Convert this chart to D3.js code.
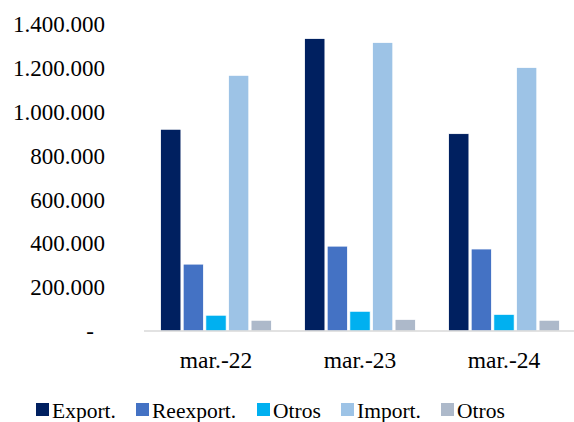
<!DOCTYPE html>
<html><head><meta charset="utf-8">
<script src="https://cdn.jsdelivr.net/npm/d3@7"></script>
<style>body{margin:0;background:#fff}svg{display:block}
svg text{font-family:"Liberation Serif","Times New Roman","DejaVu Serif",serif !important;}</style>
</head><body>
<svg id="c" width="574" height="422"></svg>
<script>
const categories = ["mar.-22", "mar.-23", "mar.-24"];
const seriesNames = ["Export.", "Reexport.", "Otros", "Import.", "Otros"];
const seriesColors = ["#002060", "#4472C4", "#00B0F0", "#9DC3E6", "#ADB9CA"];
const exportVals = [920000, 1334000, 900000];
const reexportVals = [305000, 387000, 374000];
const otrosExpVals = [72000, 90000, 76000];
const importVals = [1166000, 1316000, 1202000];
const otrosImpVals = [49000, 53000, 49000];
const tickValues = [0, 200000, 400000, 600000, 800000, 1000000, 1200000, 1400000];
const tickLabels = ["-", "200.000", "400.000", "600.000", "800.000", "1.000.000", "1.200.000", "1.400.000"];

(function () {
const series = [exportVals, reexportVals, otrosExpVals, importVals, otrosImpVals];
const svg = d3.select("#c");
const mLeft = 144, mRight = 576, mTop = 24, mBottom = 331;

const y = d3.scaleLinear().domain([0, 1400000]).range([mBottom, mTop]);
const x0 = d3.scaleBand().domain(categories).range([mLeft, mRight]).paddingInner(0.23).paddingOuter(0.115);
const x1 = d3.scaleBand().domain(d3.range(series.length)).range([0, x0.bandwidth()]).paddingInner(0.1);

// y tick labels
const yAxis = d3.axisLeft(y).tickValues(tickValues).tickSize(0).tickPadding(0)
  .tickFormat((d, i) => tickLabels[i]);
const gy = svg.append("g").attr("transform", "translate(105,0)").call(yAxis);
gy.select(".domain").remove();
gy.attr("font-family", null).attr("font-size", null);
gy.selectAll("text").style("font-size", "23px").attr("fill", "#000")
  .attr("dy", "0.33em")
  .attr("x", d => d === 0 ? -11 : 0);

// bars
const g = svg.append("g");
categories.forEach((c, ci) => {
  series.forEach((s, si) => {
    g.append("rect")
      .attr("x", x0(c) + x1(si))
      .attr("y", y(s[ci]))
      .attr("width", x1.bandwidth())
      .attr("height", y(0) - y(s[ci]))
      .attr("fill", seriesColors[si])
      .attr("stroke", "#ffffff").attr("stroke-width", 0.8);
  });
});

// x axis
const xAxis = d3.axisBottom(x0).tickSize(0).tickPadding(0);
const gx = svg.append("g").attr("transform", `translate(0,${mBottom})`).call(xAxis);
gx.attr("font-family", null).attr("font-size", null);
gx.select(".domain").attr("stroke", "#d9d9d9").attr("stroke-width", 1.5)
  .attr("d", `M${mLeft},0H574`);
gx.selectAll("text").style("font-size", "23.5px").attr("fill", "#000")
  .attr("y", 37).attr("dy", 0);

// legend
const legendX = [36, 136, 257, 341, 441];
const lg = svg.append("g");
seriesNames.forEach((n, i) => {
  lg.append("rect").attr("x", legendX[i]).attr("y", 403).attr("width", 13).attr("height", 13)
    .attr("fill", seriesColors[i]);
  lg.append("text").attr("x", legendX[i] + 16).attr("y", 417.5)
    .style("font-size", "21.5px").attr("fill", "#000").text(n);
});
})();
</script>
</body></html>
